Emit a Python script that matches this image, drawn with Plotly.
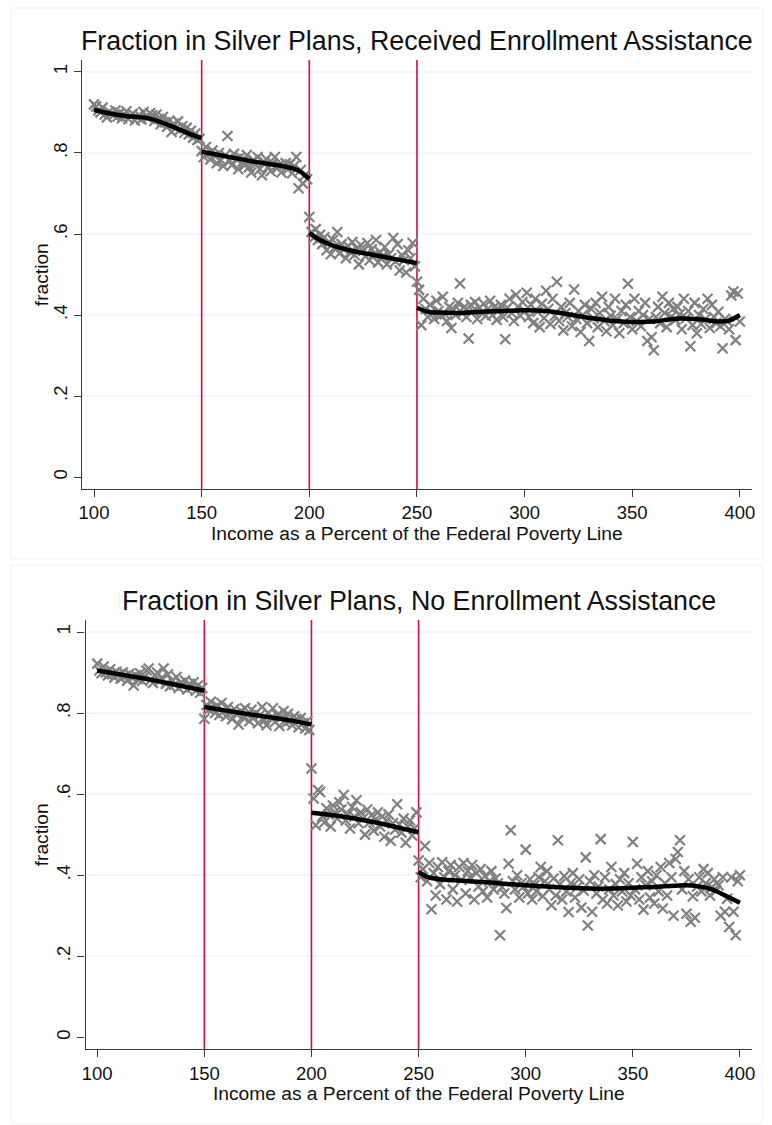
import plotly.graph_objects as go

W, H = 772, 1125

# ---------------- data ----------------
x_bins = list(range(100, 401))

top_frac = [
    # 100-149
    .920, .915, .905, .900, .912, .895, .888, .902, .897, .893,
    .905, .890, .899, .886, .895, .903, .884, .892, .897, .880,
    .889, .894, .883, .901, .890, .886, .898, .893, .879, .895,
    .884, .871, .889, .876, .865, .880, .852, .872, .861, .878,
    .858, .866, .850, .862, .846, .855, .838, .848, .832, .835,
    # 150-199
    .805, .790, .815, .798, .784, .806, .793, .775, .800, .782,
    .768, .795, .842, .780, .770, .798, .785, .760, .790, .778,
    .770, .795, .765, .752, .783, .772, .790, .760, .745, .778,
    .785, .766, .755, .775, .790, .762, .770, .752, .768, .775,
    .760, .772, .750, .768, .790, .713, .758, .725, .745, .735,
    # 200-249
    .642, .605, .590, .612, .585, .598, .575, .592, .560, .580,
    .550, .585, .568, .605, .552, .575, .562, .540, .570, .555,
    .580, .548, .565, .525, .572, .558, .545, .578, .535, .562,
    .550, .585, .530, .555, .545, .568, .525, .550, .540, .590,
    .532, .575, .510, .548, .535, .505, .560, .540, .578, .520,
    # 250-400
    .482, .462, .375, .440, .415, .395, .425, .405, .390, .435,
    .410, .398, .445, .402, .385, .420, .368, .412, .400, .430,
    .478, .405, .420, .395, .342, .425, .410, .432, .390, .418,
    .405, .428, .398, .415, .435, .400, .420, .388, .412, .425,
    .395, .340, .418, .440, .405, .385, .450, .420, .398, .432,
    .410, .455, .395, .425, .380, .440, .408, .370, .428, .392,
    .460, .415, .378, .440, .398, .482, .385, .420, .362, .405,
    .395, .430, .372, .463, .390, .410, .358, .400, .425, .380,
    .336, .415, .392, .430, .370, .405, .445, .385, .360, .420,
    .398, .375, .440, .390, .355, .410, .380, .425, .477, .395,
    .365, .440, .385, .410, .372, .400, .430, .336, .390, .345,
    .313, .395, .420, .380, .445, .405, .370, .430, .395, .415,
    .388, .420, .402, .365, .440, .392, .410, .323, .375, .430,
    .355, .400, .378, .415, .390, .440, .368, .425, .395, .380,
    .408, .372, .318, .390, .385, .365, .448, .458, .338, .453,
    .384,
]

bot_frac = [
    # 100-149
    .922, .905, .898, .915, .900, .893, .908, .896, .888, .902,
    .895, .885, .900, .892, .880, .897, .889, .868, .893, .884,
    .898, .879, .890, .905, .910, .882, .874, .893, .900, .878,
    .886, .910, .872, .895, .866, .880, .870, .889, .862, .875,
    .868, .880, .858, .872, .864, .876, .855, .868, .850, .862,
    # 150-199
    .786, .820, .808, .828, .812, .800, .818, .795, .825, .805,
    .792, .815, .800, .785, .810, .798, .772, .805, .790, .812,
    .795, .780, .808, .788, .800, .775, .795, .815, .782, .770,
    .800, .788, .812, .778, .795, .768, .790, .805, .775, .798,
    .782, .770, .792, .785, .765, .788, .775, .762, .780, .758,
    # 200-249
    .663, .589, .523, .610, .605, .545, .530, .565, .550, .520,
    .572, .555, .540, .580, .562, .598, .535, .550, .515, .568,
    .545, .585, .528, .555, .540, .500, .562, .530, .548, .510,
    .538, .555, .520, .545, .495, .535, .550, .485, .528, .512,
    .575, .525, .505, .540, .480, .520, .535, .498, .515, .555,
    # 250-400
    .436, .395, .415, .472, .385, .430, .316, .405, .350, .420,
    .378, .432, .395, .340, .410, .425, .365, .400, .335, .420,
    .388, .430, .355, .410, .395, .425, .340, .405, .372, .415,
    .360, .398, .345, .385, .410, .365, .392, .380, .252, .370,
    .355, .319, .428, .511, .385, .365, .400, .345, .380, .372,
    .463, .355, .390, .340, .375, .360, .395, .420, .348, .385,
    .410, .365, .326, .392, .350, .486, .378, .340, .398, .360,
    .309, .380, .405, .345, .370, .390, .320, .362, .444, .276,
    .385, .310, .400, .355, .372, .489, .340, .395, .330, .365,
    .420, .350, .378, .325, .390, .360, .405, .335, .380, .350,
    .482, .365, .428, .340, .395, .315, .375, .410, .345, .385,
    .330, .400, .360, .420, .318, .380, .350, .430, .395, .300,
    .440, .457, .486, .365, .410, .305, .390, .285, .348, .295,
    .372, .395, .360, .415, .380, .405, .350, .370, .390, .362,
    .375, .300, .395, .310, .342, .272, .395, .310, .252, .385,
    .400,
]

# fitted curves, one list per segment between thresholds
top_fit = [
    ([100, 105, 110, 115, 120, 125, 130, 135, 140, 145, 150],
     [.906, .900, .895, .891, .889, .886, .878, .868, .857, .846, .837]),
    ([150, 155, 160, 165, 170, 175, 180, 185, 190, 195, 200],
     [.803, .798, .793, .788, .783, .778, .774, .770, .765, .757, .736]),
    ([200, 205, 210, 215, 220, 225, 230, 235, 240, 245, 250],
     [.602, .585, .573, .565, .558, .553, .548, .543, .538, .533, .528]),
    ([250, 255, 260, 270, 280, 290, 300, 310, 320, 330, 340, 350, 360, 370, 380, 390, 395, 400],
     [.418, .408, .406, .405, .408, .410, .412, .410, .402, .393, .386, .383, .384, .391, .390, .384, .386, .400]),
]

bot_fit = [
    ([100, 110, 120, 130, 140, 150],
     [.905, .896, .887, .877, .866, .855]),
    ([150, 160, 170, 180, 190, 200],
     [.815, .806, .798, .790, .782, .772]),
    ([200, 210, 220, 230, 240, 250],
     [.554, .548, .540, .530, .518, .506]),
    ([250, 253, 256, 260, 270, 280, 290, 300, 310, 320, 330, 340, 350, 360, 370, 375, 380, 385, 390, 395, 400],
     [.408, .398, .393, .390, .386, .383, .379, .375, .372, .369, .367, .367, .369, .371, .374, .375, .373, .368, .358, .345, .332]),
]

thresholds = [150, 200, 250]
y_ticks = [0, 0.2, 0.4, 0.6, 0.8, 1]
y_tick_text = ["0", ".2", ".4", ".6", ".8", "1"]
x_ticks = [100, 150, 200, 250, 300, 350, 400]

titles = ["Fraction in Silver Plans, Received Enrollment Assistance",
          "Fraction in Silver Plans, No Enrollment Assistance"]
x_title = "Income as a Percent of the Federal Poverty Line"
y_title = "fraction"

# ---------------- layout geometry (pixels) ----------------
def px_x(p):
    return p / W

def px_y(p):
    return 1 - p / H

panels = [
    dict(left=79, right=755, top=60, bottom=489, frame=(7, 8, 765, 559),
         title_y=41.5, xtitle_y=533.5, ytitle_x=38),
    dict(left=82.3, right=755, top=620, bottom=1049.3, frame=(7, 565, 765, 1124),
         title_y=601, xtitle_y=1093, ytitle_x=38),
]

FONT = "Liberation Sans, Arial, Helvetica, sans-serif"
GRAY = "#808080"
RED = "#cc1236"
AXIS = "#3a3a3a"
GRID = "#e9f0f2"

fig = go.Figure()
shapes = []
annotations = []

datasets = [(top_frac, top_fit), (bot_frac, bot_fit)]

for i, (pn, (frac, fits)) in enumerate(zip(panels, datasets)):
    xa = "x" if i == 0 else "x2"
    ya = "y" if i == 0 else "y2"
    fig.add_trace(go.Scatter(
        x=x_bins, y=frac, mode="markers", xaxis=xa, yaxis=ya,
        marker=dict(symbol="x-thin", size=10, color=GRAY,
                    line=dict(width=2.2, color=GRAY)),
        showlegend=False, hoverinfo="skip"))
    for fx, fy in fits:
        fig.add_trace(go.Scatter(
            x=fx, y=fy, mode="lines", xaxis=xa, yaxis=ya,
            line=dict(color="black", width=4.5, shape="spline", smoothing=0.8),
            showlegend=False, hoverinfo="skip"))

    ax_x = "xaxis" if i == 0 else "xaxis2"
    ax_y = "yaxis" if i == 0 else "yaxis2"
    common = dict(showline=True, linecolor=AXIS, linewidth=1.2,
                  ticks="outside", ticklen=7, tickwidth=1.2, tickcolor=AXIS,
                  tickfont=dict(family=FONT, size=18.5, color="#111"),
                  showgrid=False, zeroline=False)
    fig.layout[ax_x] = dict(
        domain=[px_x(pn["left"]), px_x(pn["right"])],
        anchor=ya,
        range=[94.55, 405.7], tickvals=x_ticks, **common)
    fig.layout[ax_y] = dict(
        domain=[px_y(pn["bottom"]), px_y(pn["top"])],
        anchor=xa,
        range=[-0.0296, 1.0296], tickvals=y_ticks, ticktext=y_tick_text,
        tickangle=-90, **common)

    # frame around panel
    fx0, fy0, fx1, fy1 = pn["frame"]
    shapes.append(dict(type="rect", xref="paper", yref="paper",
                       x0=px_x(fx0), x1=px_x(fx1), y0=px_y(fy1), y1=px_y(fy0),
                       line=dict(color="#eef2f3", width=1), layer="below"))
    # gridlines
    for v in y_ticks[1:]:
        shapes.append(dict(type="line", xref=f"{xa} domain", yref=ya,
                           x0=0, x1=1, y0=v, y1=v,
                           line=dict(color=GRID, width=1.2), layer="below"))
    # threshold lines
    for t in thresholds:
        shapes.append(dict(type="line", xref=xa, yref=f"{ya} domain",
                           x0=t, x1=t, y0=0, y1=1,
                           line=dict(color=RED, width=1.6), layer="below"))

    cx = px_x((pn["left"] + pn["right"]) / 2)
    annotations.append(dict(text=titles[i], xref="paper", yref="paper",
                            x=cx, y=px_y(pn["title_y"]), xanchor="center",
                            yanchor="middle", showarrow=False,
                            font=dict(family=FONT, size=26.8, color="#111")))
    annotations.append(dict(text=x_title, xref="paper", yref="paper",
                            x=cx, y=px_y(pn["xtitle_y"]), xanchor="center",
                            yanchor="middle", showarrow=False,
                            font=dict(family=FONT, size=19.2, color="#111")))
    annotations.append(dict(text=y_title, xref="paper", yref="paper",
                            x=px_x(pn["ytitle_x"]),
                            y=px_y((pn["top"] + pn["bottom"]) / 2),
                            xanchor="center", yanchor="middle", textangle=-90,
                            showarrow=False,
                            font=dict(family=FONT, size=19.2, color="#111")))

fig.update_layout(
    width=W, height=H,
    margin=dict(l=0, r=0, t=0, b=0),
    paper_bgcolor="white", plot_bgcolor="white",
    shapes=shapes, annotations=annotations,
    showlegend=False,
)

fig.write_html("out.html")
